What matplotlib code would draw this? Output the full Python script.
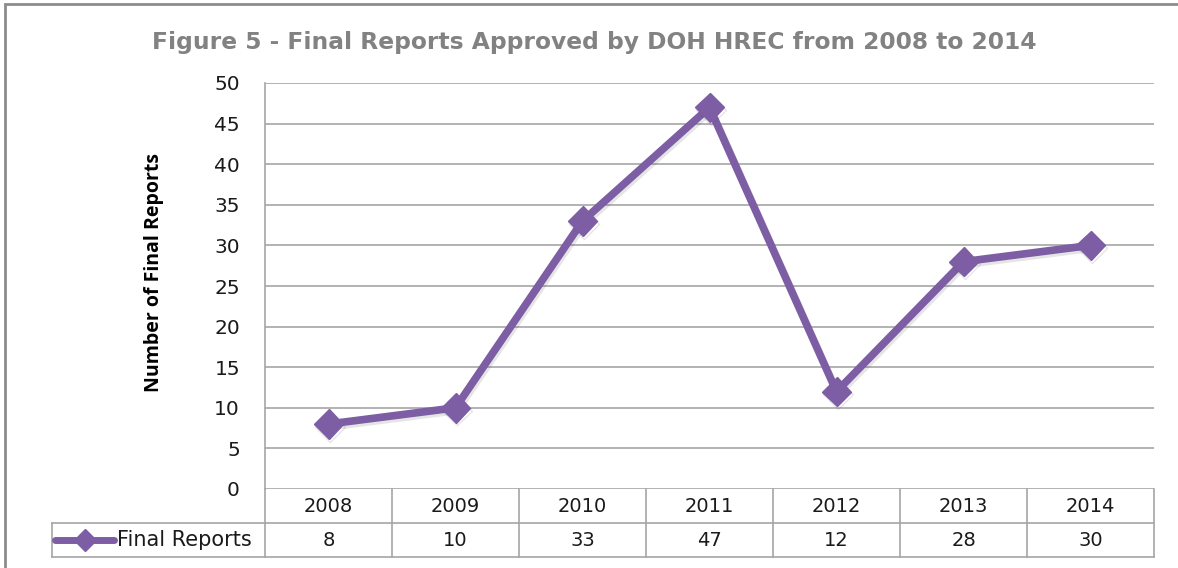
import numpy as np
import matplotlib
matplotlib.use("Agg")
import matplotlib.pyplot as plt
import matplotlib.patheffects as pe
from matplotlib.patches import Rectangle

years = ["2008", "2009", "2010", "2011", "2012", "2013", "2014"]
final_reports = [8, 10, 33, 47, 12, 28, 30]
series_name = "Final Reports"
title = "Figure 5 - Final Reports Approved by DOH HREC from 2008 to 2014"
ylabel = "Number of Final Reports"

PURPLE = "#7D5DA3"
GRID = "#a6a6a6"
TXT = "#1a1a1a"
WIDE = ["DejaVu Sans"]          # the reference is stretched sideways, a wide face fits better
plt.rcParams["font.family"] = ["Open Sans", "DejaVu Sans"]

W, H = 1178, 568
fig = plt.figure(figsize=(W / 100, H / 100), dpi=100)

# outer chart border (only top/left visible in the crop)
fig.add_artist(Rectangle((5 / W, -0.1), 1.2, (H - 4) / H + 0.1, transform=fig.transFigure,
                         fill=False, edgecolor="#8c8c8c", lw=2))

# plot area in pixels
L, R, T, B = 265, 1154, 83, 489
ax = fig.add_axes([L / W, 1 - B / H, (R - L) / W, (B - T) / H])
x = np.arange(len(years))
shadow = [pe.SimpleLineShadow(offset=(1.2, -2.0), alpha=0.15, shadow_color="#555555"), pe.Normal()]
ax.plot(x, final_reports, color=PURPLE, lw=5.5, marker="D", ms=15, mec=PURPLE,
        solid_joinstyle="miter", path_effects=shadow, zorder=3)
ax.set_xlim(-0.5, len(years) - 0.5)
ax.set_ylim(0, 50)
ax.set_yticks(range(0, 51, 5))
ax.set_xticks([])
ax.grid(axis="y", color=GRID, lw=1.2)
ax.set_axisbelow(True)
for s in ["top", "right", "bottom"]:
    ax.spines[s].set_visible(False)
ax.spines["left"].set_color(GRID)
ax.spines["left"].set_linewidth(1.2)
ax.tick_params(axis="y", length=0, pad=18, labelsize=14.5, labelcolor=TXT)
for lab in ax.get_yticklabels():
    lab.set_family(WIDE)

fig.text(154 / W, 1 - 272 / H, ylabel, rotation=90, ha="center", va="center",
         fontsize=14, fontweight="bold", color="black")
fig.text(594 / W, 1 - 42 / H, title, ha="center", va="center", fontsize=16.8,
         fontweight="bold", color="#828282", family=WIDE)

# data table below the plot
TL, TB = 52, 557
unit = (R - L) / len(years)
tax = fig.add_axes([TL / W, 1 - TB / H, (R - TL) / W, (TB - B) / H])
tax.set_xlim(-0.5 - (L - TL) / unit, len(years) - 0.5)
tax.set_ylim(0, 2)
tax.axis("off")
lk = dict(color=GRID, lw=1.2, clip_on=False)
x0 = -0.5 - (L - TL) / unit
tax.plot([x0, len(years) - 0.5], [0, 0], **lk)
tax.plot([x0, len(years) - 0.5], [1, 1], **lk)
tax.plot([x0, x0], [0, 1], **lk)
for i in range(len(years) + 1):
    tax.plot([i - 0.5, i - 0.5], [0, 2], **lk)
for i, (yr, v) in enumerate(zip(years, final_reports)):
    tax.text(i, 1.5, yr, ha="center", va="center", fontsize=14, color=TXT, family=WIDE)
    tax.text(i, 0.5, str(v), ha="center", va="center", fontsize=14, color=TXT, family=WIDE)
kx0 = x0 + 3 / unit
kx1 = x0 + 62 / unit
tax.plot([kx0, kx1], [0.5, 0.5], color=PURPLE, lw=5, solid_capstyle="round", clip_on=False)
tax.plot([(kx0 + kx1) / 2], [0.5], marker="D", ms=11, color=PURPLE, clip_on=False)
tax.text(x0 + 65 / unit, 0.5, series_name, ha="left", va="center", fontsize=15, color=TXT,
         family=WIDE)

fig.savefig("out.png", dpi=100)
